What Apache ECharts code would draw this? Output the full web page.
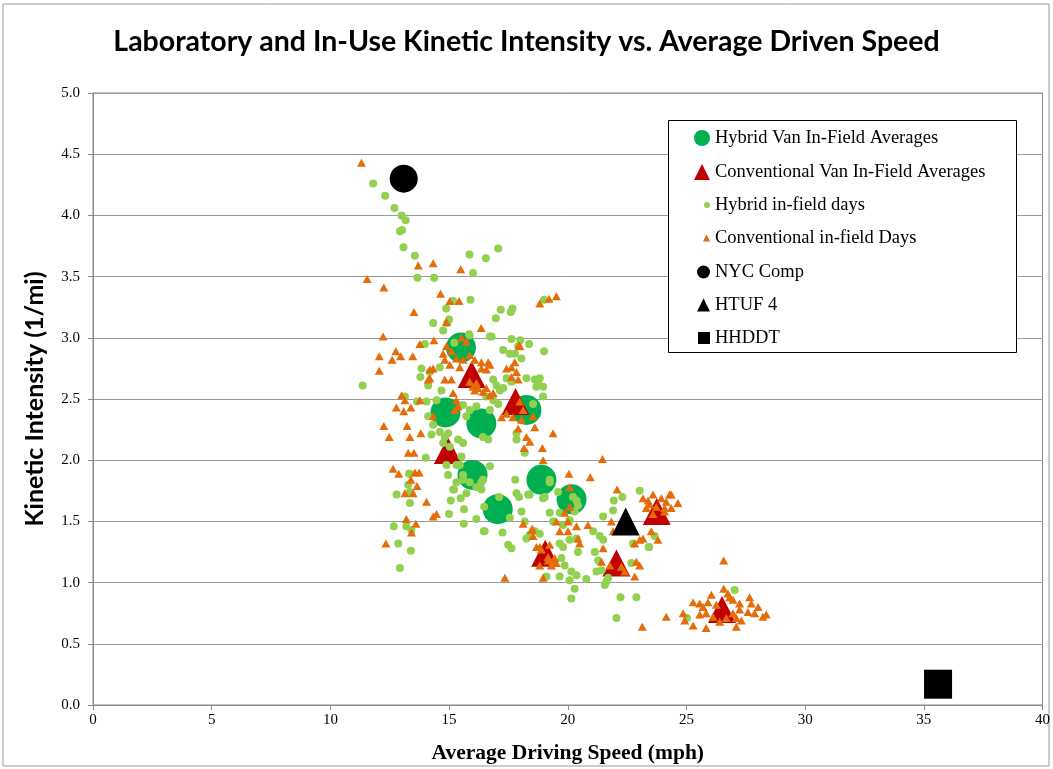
<!DOCTYPE html>
<html>
<head>
<meta charset="utf-8">
<title>Kinetic Intensity vs Average Driven Speed</title>
<script src="https://cdn.jsdelivr.net/npm/echarts@6.0.0/dist/echarts.min.js"></script>
<style>
  html, body { margin: 0; padding: 0; background: #fff; }
  #main { width: 1053px; height: 769px; }
</style>
</head>
<body>
<div id="main"></div>
<script>
// averages per van (speed mph, kinetic intensity 1/mi)
var hybridAvg = [
  [15.50, 2.92], [14.85, 2.39], [16.36, 2.30], [18.26, 2.41],
  [15.99, 1.88], [17.05, 1.60], [18.89, 1.84], [20.16, 1.68]
];
var convAvg = [
  [15.95, 2.70], [17.80, 2.48], [14.95, 2.08], [19.05, 1.24],
  [22.05, 1.16], [23.75, 1.58], [26.50, 0.78]
];
// lab cycles
var nycComp = [[13.09, 4.30]];
var htuf4 = [[22.44, 1.50]];
var hhddt = [[35.6, 0.17]];

// individual days
var hybridDays = [
  [11.80,4.26],[12.31,4.16],[12.70,4.06],[13.00,4.00],[13.17,3.96],[12.93,3.87],[13.02,3.88],[13.08,3.74],
  [13.56,3.67],[13.67,3.49],[14.37,3.49],[15.86,3.68],[16.55,3.65],[17.07,3.73],[16.01,3.53],[15.17,3.30],
  [15.90,3.31],[14.88,3.24],[17.18,3.23],[17.67,3.24],[17.60,3.21],[15.00,3.15],[14.92,3.12],[16.97,3.16],
  [14.33,3.12],[14.75,3.06],[16.72,3.01],[17.63,2.99],[18.00,2.98],[18.37,2.95],[19.00,3.31],[13.98,2.95],
  [15.22,2.96],[15.84,3.03],
  [11.36,2.61],[15.87,3.02],[16.79,3.01],[17.28,2.90],[17.56,2.87],[17.77,2.87],[17.91,2.93],[19.00,2.89],
  [18.05,2.83],[13.84,2.75],[13.79,2.68],[14.19,2.72],[14.61,2.76],[14.12,2.61],[14.68,2.57],[14.47,2.49],
  [14.05,2.48],[13.65,2.48],[13.14,2.52],[14.12,2.36],[14.33,2.29],[14.26,2.21],[14.61,2.23],[14.82,2.19],
  [14.96,2.22],[14.75,2.14],[15.03,2.11],[15.38,2.17],[15.59,2.14],[15.73,2.36],[15.87,2.41],[15.59,2.45],
  [16.15,2.44],[16.57,2.52],[16.86,2.49],[17.07,2.46],[16.72,2.41],[17.00,2.61],[17.14,2.57],[17.28,2.59],
  [16.86,2.66],[17.42,2.67],[17.63,2.64],[18.26,2.67],[18.61,2.66],[18.82,2.67],[18.75,2.63],[18.96,2.60],
  [18.96,2.52],[18.68,2.60],[17.84,2.17],[18.19,2.06],[17.84,2.22],[16.43,2.19],[16.65,2.17],[15.52,2.03],
  [15.31,1.96],[15.59,1.88],[15.87,1.82],[16.15,1.78],[16.36,1.82],[16.72,1.95],[14.89,1.96],[14.96,1.88],
  [15.31,1.82],[13.31,1.89],[14.02,2.02],[12.79,1.72],[13.35,1.74],[15.17,1.76],[15.73,1.73],[17.84,1.73],
  [18.40,1.72],[19.24,1.82],[19.59,1.74],
  [13.35,1.65],[15.45,1.96],[15.59,1.84],[15.21,1.76],[15.49,1.69],[15.07,1.67],[15.00,1.56],[15.63,1.60],
  [15.62,1.48],[16.43,1.84],[16.36,1.76],[16.15,1.52],[16.46,1.42],[16.48,1.62],[17.11,1.70],[17.56,1.53],
  [17.25,1.41],[17.49,1.31],[17.63,1.28],[17.79,1.84],[17.95,1.70],[18.05,1.58],[18.33,1.72],[18.96,1.69],
  [18.26,1.36],[18.40,1.39],[18.61,1.42],[18.82,1.40],[18.19,1.50],[19.24,1.57],[19.38,1.50],[19.66,1.57],
  [19.80,1.47],[20.08,1.51],[20.29,1.58],[20.43,1.63],[20.37,1.67],[20.22,1.70],[19.66,1.32],[19.80,1.29],
  [20.08,1.35],[20.37,1.36],[20.43,1.25],[19.73,1.20],[19.87,1.14],[20.15,1.09],[20.37,1.06],[20.08,1.02],
  [20.29,0.95],[20.15,0.87],[19.66,1.05],[19.10,1.05],[12.67,1.46],[12.86,1.32],[13.39,1.26],[12.93,1.12],
  [13.20,1.46],[13.41,1.43],[13.35,1.89],[13.28,1.80],[13.32,1.73],
  [23.03,1.75],[21.94,1.67],[22.30,1.70],[21.91,1.59],[21.49,1.54],[21.07,1.42],[21.35,1.38],[21.49,1.35],
  [21.14,1.25],[21.28,1.18],[21.42,1.10],[21.21,1.09],[21.70,1.04],[21.56,0.98],[21.63,1.01],[22.68,1.16],
  [22.89,0.88],[22.22,0.88],[22.05,0.71],[23.41,1.29],[20.78,1.03],[19.03,1.70],[16.50,1.42],[23.66,1.38],
  [23.43,1.29],[22.75,1.32],[27.03,0.94],[25.02,0.71],[18.54,2.46],[19.24,1.84]
];
var convDays = [
  [11.31,4.43],[13.70,3.59],[14.33,3.61],[15.49,3.56],[11.55,3.48],[12.25,3.41],[14.64,3.36],[15.03,3.30],
  [15.42,3.30],[13.52,3.21],[14.89,3.13],[16.35,3.08],[12.22,3.01],[18.82,3.28],[19.21,3.32],[19.52,3.34],
  [17.95,2.94],[13.77,2.95],[14.36,2.98],
  [12.06,2.85],[12.76,2.89],[12.60,2.82],[12.96,2.85],[13.47,2.85],[12.06,2.73],[14.89,2.93],[14.75,2.87],
  [15.10,2.89],[15.31,2.83],[15.52,3.00],[15.73,2.97],[15.87,2.86],[16.08,2.82],[16.36,2.80],[16.65,2.80],
  [14.82,2.82],[15.03,2.78],[15.45,2.76],[15.59,2.82],[14.19,2.74],[14.33,2.75],[14.12,2.66],[14.19,2.67],
  [14.82,2.66],[15.10,2.66],[15.87,2.64],[16.15,2.63],[16.08,2.57],[16.01,2.60],[16.22,2.59],[16.43,2.56],
  [16.57,2.59],[16.72,2.53],[16.86,2.55],[16.36,2.75],[16.57,2.74],[16.72,2.78],[17.42,2.75],[17.63,2.76],
  [17.77,2.80],[17.84,2.72],[17.91,2.66],[17.63,2.68],[17.98,2.93],[15.17,2.55],[15.31,2.49],[15.38,2.44],
  [15.24,2.41],[13.00,2.53],[13.14,2.49],[12.78,2.43],[13.09,2.40],[13.39,2.43],[12.25,2.28],[12.48,2.19],
  [13.23,2.28],[13.35,2.19],[13.81,2.22],[13.28,2.06],[13.52,2.06],[12.64,1.93],[12.88,1.89],[13.56,1.90],
  [13.74,1.90],[13.39,1.84],[13.65,1.79],[13.14,1.73],[13.49,1.73],[17.21,2.35],[17.42,2.38],[17.69,2.35],
  [17.98,2.48],[18.12,2.41],[18.05,2.33],[18.54,2.36],[18.61,2.27],[17.91,2.26],[18.26,2.19],[18.40,2.15],
  [18.16,2.10],[19.38,2.22],[18.93,2.10],[18.96,2.00],[20.05,1.89],[20.08,1.78],[13.77,2.49],[14.33,2.36],
  [14.05,1.66],[14.33,1.54],[14.47,1.56],[13.20,1.52],[13.60,1.48],[13.42,1.41],[12.34,1.32],[17.35,1.04],
  [18.96,1.04],[18.51,1.44],[18.12,1.48],[18.68,1.29],[18.89,1.27],[19.24,1.31],[19.17,1.18],[19.45,1.20],
  [18.82,1.14],[19.31,1.14],[19.52,1.16],[19.52,1.50],[19.87,1.57],[20.01,1.50],[19.66,1.42],[20.01,1.42],
  [20.37,1.46],[20.08,1.62],[20.43,1.36],
  [21.46,2.01],[20.95,1.86],[22.08,1.76],[23.17,1.69],[23.38,1.67],[23.59,1.72],[23.94,1.69],[24.15,1.66],
  [24.29,1.72],[24.64,1.65],[24.36,1.61],[24.08,1.61],[23.59,1.56],[23.73,1.62],[23.31,1.61],[23.52,1.42],
  [23.80,1.35],[23.17,1.36],[23.03,1.35],[22.82,1.32],[22.89,1.17],[23.03,1.14],[22.82,1.05],[21.42,1.17],
  [21.77,1.14],[22.26,1.13],[22.40,1.09],[21.49,1.28],[20.85,1.47],[20.50,1.32],[18.82,1.29],[19.17,1.21],
  [19.38,1.17],[18.47,1.43],[18.54,1.38],[23.14,0.64],[26.57,1.18],
  [26.57,0.95],[26.75,0.91],[26.05,0.90],[25.28,0.84],[25.56,0.83],[25.91,0.84],[26.26,0.82],[26.96,0.86],
  [27.24,0.83],[27.66,0.88],[27.73,0.83],[28.02,0.80],[27.59,0.76],[27.87,0.75],[28.22,0.72],[28.36,0.74],
  [27.24,0.78],[26.96,0.75],[27.10,0.71],[27.31,0.69],[26.68,0.71],[26.40,0.68],[26.12,0.72],[25.83,0.75],
  [25.56,0.74],[24.86,0.75],[24.93,0.69],[25.28,0.65],[25.83,0.63],[27.10,0.64],[24.15,0.72],[26.82,0.88],
  [25.70,0.80],[24.36,1.72],[24.08,1.58],[23.45,1.64],[21.84,1.50],[21.91,1.42]
];

var serif = '"Liberation Serif", "Times New Roman", serif';

// legend entries: name, icon, icon size, row centre
var legendNames = ['Hybrid Van In-Field Averages', 'Conventional Van In-Field Averages',
  'Hybrid in-field days', 'Conventional in-field Days', 'NYC Comp', 'HTUF 4', 'HHDDT'];
var legendIcons = ['circle', 'triangle', 'circle', 'triangle', 'circle', 'triangle', 'rect'];
var legendSizes = [16, 16, 6, 7, 13, 13, 12];
var legendRows = [138, 172, 205, 238, 272, 305, 338];

var legends = legendNames.map(function (name, i) {
  return {
    data: [{ name: name, icon: legendIcons[i] }],
    left: 710 - legendSizes[i],
    top: legendRows[i] - 10,
    padding: 0,
    z: 10,
    itemWidth: legendSizes[i],
    itemHeight: legendSizes[i],
    selectedMode: false,
    textStyle: { fontFamily: serif, fontSize: 18.5, color: '#000', lineHeight: 20 }
  };
});

var myChart = echarts.init(document.getElementById('main'));
var option = {
  animation: false,
  backgroundColor: '#fff',
  title: {
    text: 'Laboratory and In-Use Kinetic Intensity vs. Average Driven Speed',
    left: 'center',
    top: 22,
    textStyle: { fontFamily: 'Lato, "Open Sans", sans-serif', fontWeight: 'bold', fontSize: 28.5, color: '#000' }
  },
  graphic: [
    { type: 'rect', shape: { x: 3, y: 4, width: 1046, height: 762 }, style: { fill: null, stroke: '#999', lineWidth: 1 }, z: -1 },
    { type: 'rect', shape: { x: 668.5, y: 120.5, width: 348, height: 232 }, style: { fill: '#fff', stroke: '#000', lineWidth: 1 }, z: 5 }
  ],
  legend: legends,
  grid: { left: 93, right: 10, top: 93, bottom: 64, show: true, borderColor: '#888', borderWidth: 1 },
  xAxis: {
    type: 'value', min: 0, max: 40, interval: 5,
    name: 'Average Driving Speed (mph)', nameLocation: 'middle', nameGap: 37,
    nameTextStyle: { fontFamily: serif, fontWeight: 'bold', fontSize: 21.5, color: '#000' },
    axisLine: { lineStyle: { color: '#888' } },
    axisTick: { show: true, length: 5, lineStyle: { color: '#888' } },
    axisLabel: { fontFamily: serif, fontSize: 15, color: '#000', margin: 8 },
    splitLine: { show: false }
  },
  yAxis: {
    type: 'value', min: 0, max: 5, interval: 0.5,
    name: 'Kinetic Intensity (1/mi)', nameLocation: 'middle', nameGap: 46, nameRotate: 90,
    nameTextStyle: { fontFamily: 'Lato, "Open Sans", sans-serif', fontWeight: 'bold', fontSize: 25, color: '#000' },
    axisLine: { show: true, lineStyle: { color: '#888' } },
    axisTick: { show: true, length: 5, lineStyle: { color: '#888' } },
    axisLabel: { fontFamily: serif, fontSize: 15, color: '#000', margin: 13,
      formatter: function (v) { return v.toFixed(1); } },
    splitLine: { lineStyle: { color: '#999', width: 1 } }
  },
  series: [
    { name: legendNames[0], type: 'scatter', data: hybridAvg, symbol: 'circle', symbolSize: 30,
      itemStyle: { color: '#00B050', opacity: 1 }, z: 2 },
    { name: legendNames[1], type: 'scatter', data: convAvg, symbol: 'triangle', symbolSize: [28, 27],
      itemStyle: { color: '#C00000', opacity: 1 }, z: 2 },
    { name: legendNames[2], type: 'scatter', data: hybridDays, symbol: 'circle', symbolSize: 8,
      itemStyle: { color: '#92D050', opacity: 1 }, z: 3 },
    { name: legendNames[3], type: 'scatter', data: convDays, symbol: 'triangle', symbolSize: [9, 8],
      itemStyle: { color: '#E46C0A', opacity: 1 }, z: 3 },
    { name: legendNames[4], type: 'scatter', data: nycComp, symbol: 'circle', symbolSize: 28,
      itemStyle: { color: '#000', opacity: 1 }, z: 4 },
    { name: legendNames[5], type: 'scatter', data: htuf4, symbol: 'triangle', symbolSize: [28, 28],
      itemStyle: { color: '#000', opacity: 1 }, z: 4 },
    { name: legendNames[6], type: 'scatter', data: hhddt, symbol: 'rect', symbolSize: [28, 29],
      itemStyle: { color: '#000', opacity: 1 }, z: 4 }
  ]
};
myChart.setOption(option);
</script>
</body>
</html>
